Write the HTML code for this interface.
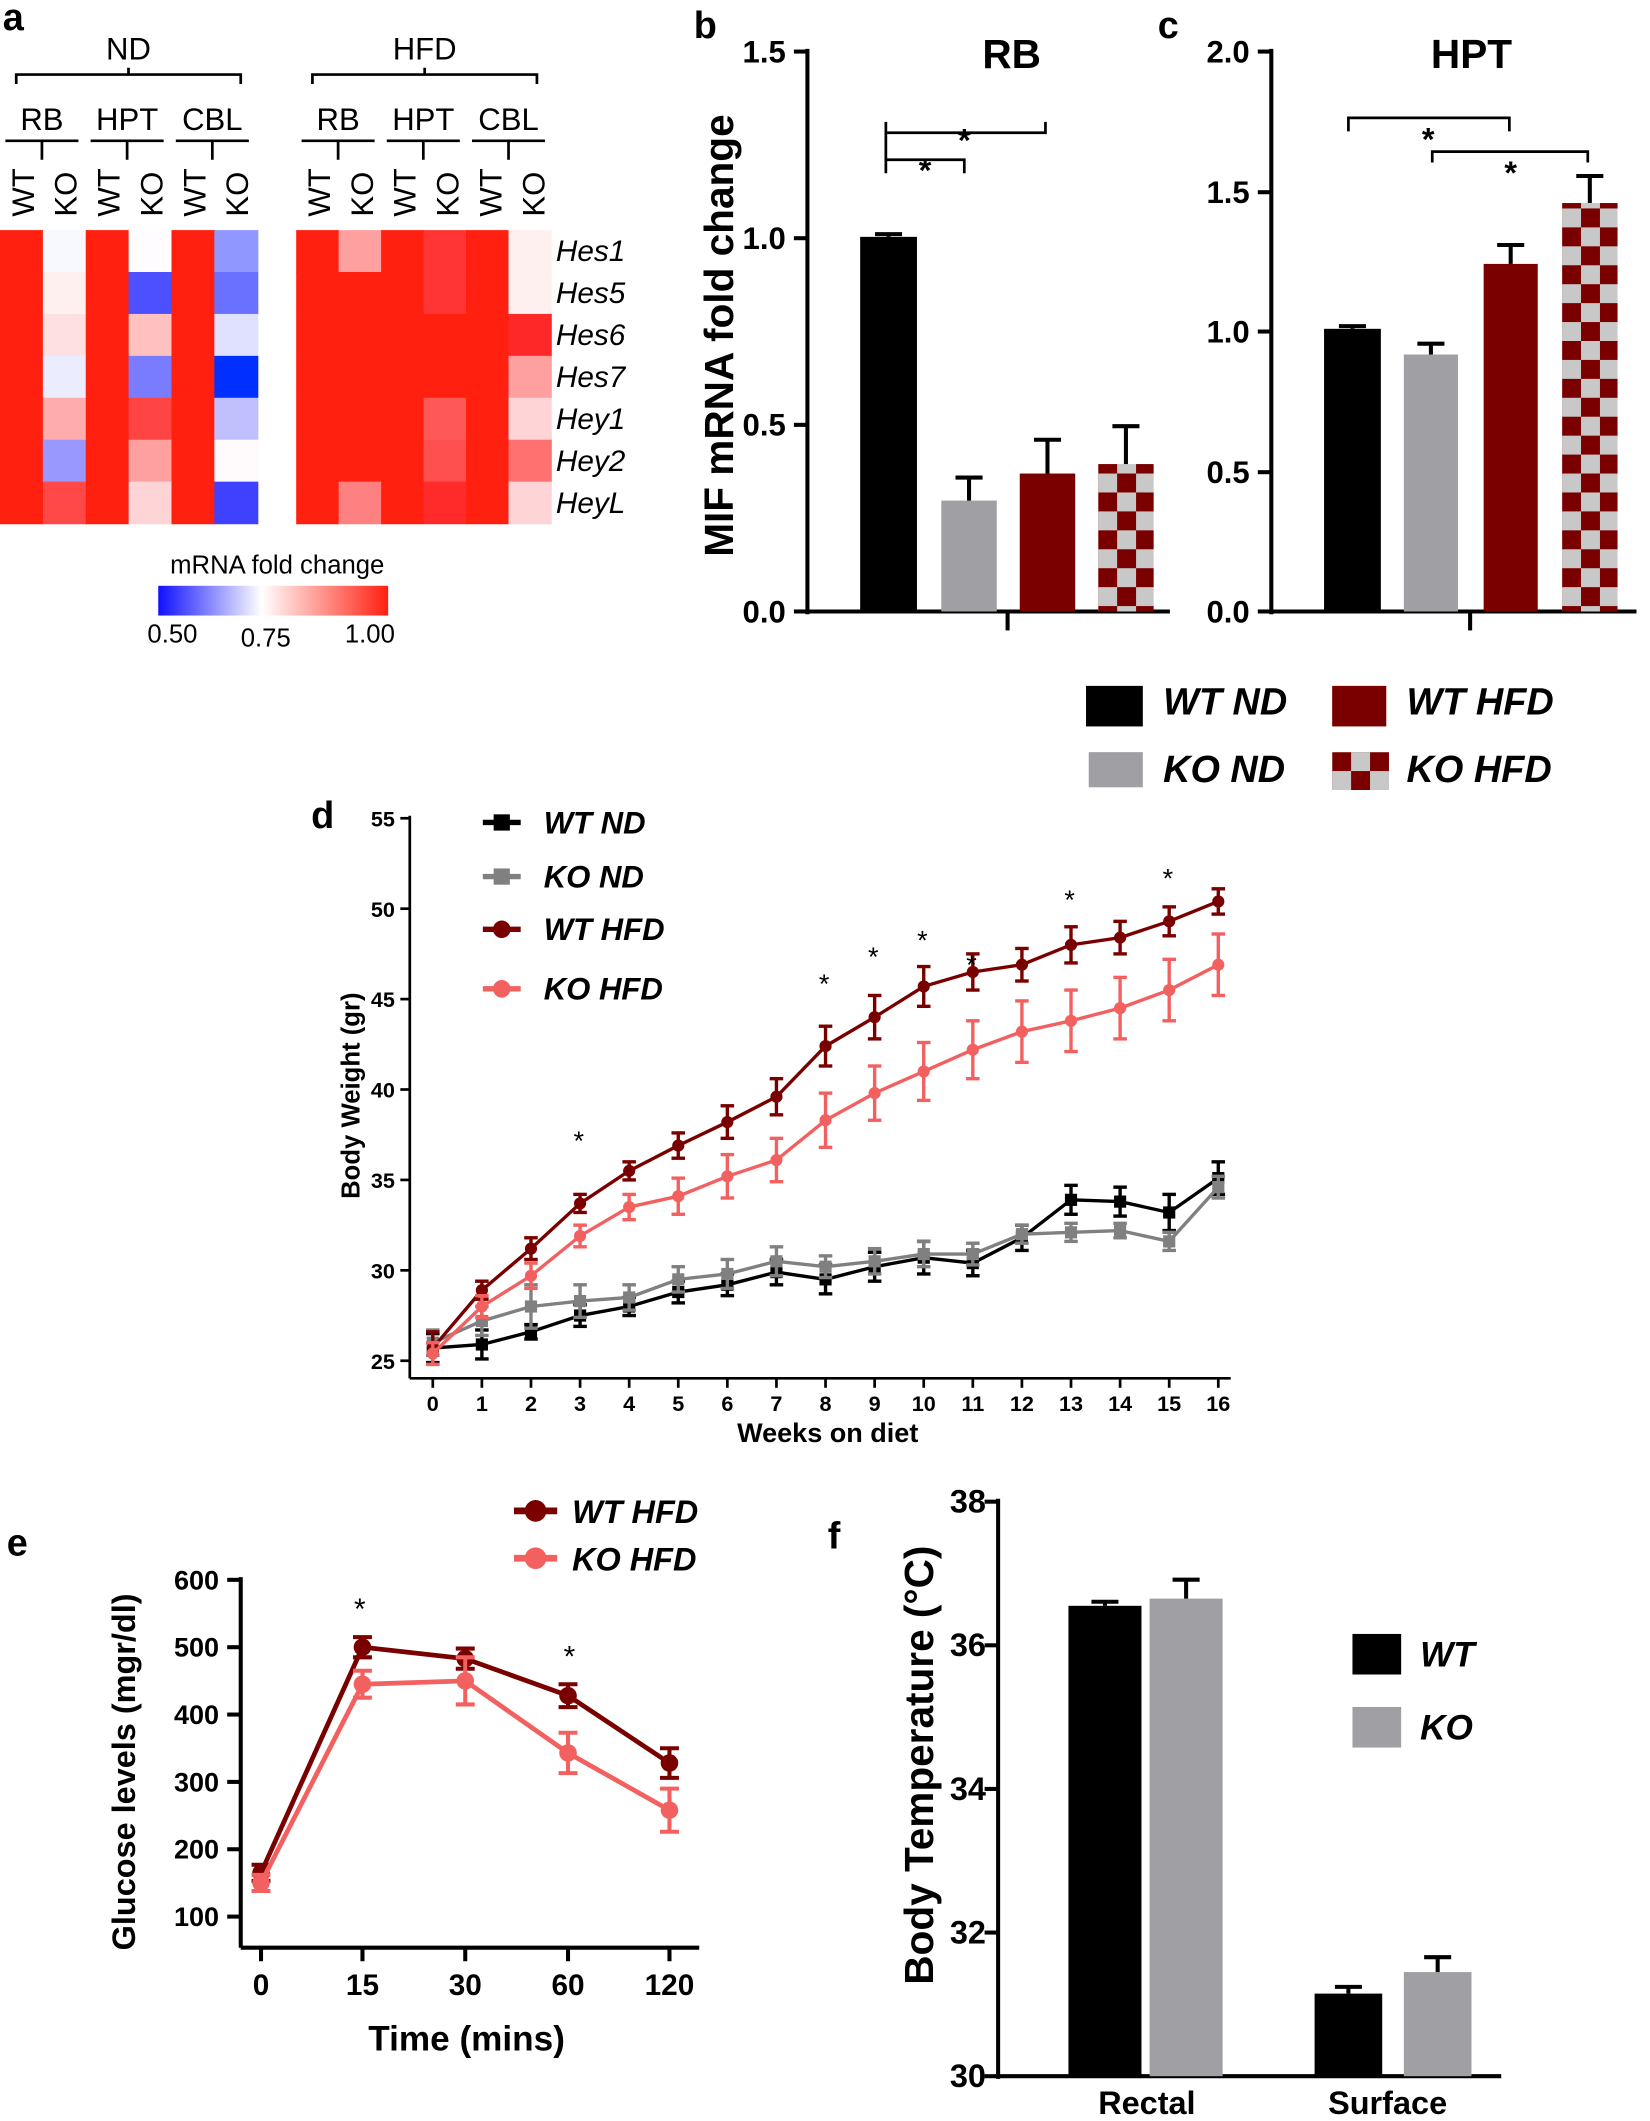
<!DOCTYPE html>
<html><head><meta charset="utf-8"><style>
html,body{margin:0;padding:0;background:#fff}
svg{display:block}
text{font-family:"Liberation Sans",Arial,sans-serif}
</style></head><body>
<svg id="s" width="1650" height="2121" viewBox="0 0 1220 1568" xmlns="http://www.w3.org/2000/svg">
<defs>
<pattern id="chk" x="812" y="0" width="28" height="28" patternUnits="userSpaceOnUse">
<rect width="28" height="28" fill="#c8c8c8"/><rect width="14" height="14" fill="#7a0000"/><rect x="14" y="14" width="14" height="14" fill="#7a0000"/></pattern>
<pattern id="chk2" x="1155" y="0" width="28" height="28" patternUnits="userSpaceOnUse">
<rect width="28" height="28" fill="#c8c8c8"/><rect width="14" height="14" fill="#7a0000"/><rect x="14" y="14" width="14" height="14" fill="#7a0000"/></pattern>
<pattern id="chk3" x="985" y="556" width="28" height="28" patternUnits="userSpaceOnUse">
<rect width="28" height="28" fill="#c8c8c8"/><rect width="14" height="14" fill="#7a0000"/><rect x="14" y="14" width="14" height="14" fill="#7a0000"/></pattern>
<linearGradient id="cb" x1="0" x2="1"><stop offset="0" stop-color="#1010ff"/><stop offset="0.45" stop-color="#fff"/><stop offset="1" stop-color="#ff2010"/></linearGradient>
</defs>
<g id="g"></g>
</svg>
<script>
var g=document.getElementById('g'),h='';
function R(x,y,w,hh,f){h+='<rect x="'+x+'" y="'+y+'" width="'+w+'" height="'+hh+'" fill="'+f+'"/>';}
function L(a,b,c,d,s,w){h+='<line x1="'+a+'" y1="'+b+'" x2="'+c+'" y2="'+d+'" stroke="'+(s||'#000')+'" stroke-width="'+(w||3)+'"/>';}
function T(x,y,t,sz,o){h+='<text x="'+x+'" y="'+y+'" font-size="'+sz+'" '+(o||'')+'>'+t+'</text>';}
T(2,22,'a',28,'font-weight="bold"');T(513,28,'b',28,'font-weight="bold"');T(856,28,'c',28,'font-weight="bold"');
T(230,612,'d',28,'font-weight="bold"');T(5,1150,'e',28,'font-weight="bold"');T(612,1145,'f',28,'font-weight="bold"');
var r='#ff2010';
var nd=[[r,'#f8f8ff',r,'#fffcff',r,'#9098ff'],[r,'#fff0f0',r,'#4c50ff',r,'#6a70ff'],[r,'#ffe0e0',r,'#ffc0c0',r,'#e0e0ff'],[r,'#ececff',r,'#7a7cff',r,'#0030ff'],[r,'#ffacac',r,'#ff4444',r,'#c0c0ff'],[r,'#9898ff',r,'#ffa0a0',r,'#fffafc'],[r,'#ff4848',r,'#ffd4d6',r,'#4040ff']];
var hf=[[r,'#ffa0a0',r,'#ff3434',r,'#fff0f0'],[r,r,r,'#ff3434',r,'#fff0f0'],[r,r,r,r,r,'#ff2828'],[r,r,r,r,r,'#ffa0a0'],[r,r,r,'#ff5858',r,'#ffd4d6'],[r,r,r,'#ff5050',r,'#ff7070'],[r,'#ff8080',r,'#ff2a2a',r,'#ffd4d6']];
for(var i=0;i<7;i++)for(var j=0;j<6;j++){R(j*31.7,170+i*31,32.5,31.5,nd[i][j]);R(219+j*31.4,170+i*31,32,31.5,hf[i][j]);}
var genes=['Hes1','Hes5','Hes6','Hes7','Hey1','Hey2','HeyL'];
genes.forEach(function(n,i){T(411,193+i*31,n,22,'font-style="italic"');});
function hdr(x0,lab){T(x0+95,44,lab,23,'text-anchor="middle"');
 h+='<path d="M'+(x0+12)+' 62 V55 H'+(x0+178)+' V62 M'+(x0+95)+' 55 V50" fill="none" stroke="#000" stroke-width="2"/>';
 ['RB','HPT','CBL'].forEach(function(s,k){var cx=x0+k*63+31;T(cx,96,s,23,'text-anchor="middle"');L(cx-27,104,cx+27,104,'#000',2);L(cx,104,cx,118,'#000',2);});
 for(var k=0;k<6;k++){T(x0+k*31.7+25,160,k%2?'KO':'WT',23,'transform="rotate(-90 '+(x0+k*31.7+25)+' 160)"');}}
hdr(0,'ND');hdr(219,'HFD');
T(205,424,'mRNA fold change',19,'text-anchor="middle"');
R(117,433,170,22,'url(#cb)');
T(109,475,'0.50',19);T(178,478,'0.75',19);T(255,475,'1.00',19);
function axis(x,y0,y1,ticks,fmt){L(x,y0,x,y1);ticks.forEach(function(t){L(x-10,t[0],x,t[0]);T(x-16,t[0]+8,t[1],23,'text-anchor="end" font-weight="bold"');});}
axis(597,36,454,[[38,'1.5'],[176,'1.0'],[314,'0.5'],[452,'0.0']]);
L(597,452,865,452);L(745,452,745,466);
T(748,50,'RB',30,'text-anchor="middle" font-weight="bold"');
T(542,248,'MIF mRNA fold change',30,'text-anchor="middle" font-weight="bold" transform="rotate(-90 542 248)"');
function bar(x,w,top,bot,f,e){R(x,top,w,bot-top,f);if(e){L(x+w/2,top,x+w/2,top-e,'#000',3);L(x+w/2-10,top-e,x+w/2+10,top-e,'#000',3);}}
bar(636,42,175,452,'#000',2);bar(696,41,370,452,'#a0a0a4',17);bar(754,41,350,452,'#7a0000',25);bar(812,41,343,452,'url(#chk)',28);
h+='<path d="M655 120 V98 H773 V90 M655 98 V90 M655 128 V118 H713 V128" fill="none" stroke="#000" stroke-width="2"/>';
T(713,112,'*',24,'text-anchor="middle" font-weight="bold"');T(684,134,'*',24,'text-anchor="middle" font-weight="bold"');
axis(940,36,454,[[38,'2.0'],[142,'1.5'],[245,'1.0'],[349,'0.5'],[452,'0.0']]);
L(940,452,1210,452);L(1087,452,1087,466);
T(1088,50,'HPT',30,'text-anchor="middle" font-weight="bold"');
bar(979,42,243,452,'#000',2);bar(1038,40,262,452,'#a0a0a4',8);bar(1097,40,195,452,'#7a0000',14);bar(1155,41,150,452,'url(#chk2)',20);
h+='<path d="M997 97 V87 H1116 V97 M1059 120 V112 H1174 V120" fill="none" stroke="#000" stroke-width="2"/>';
T(1056,111,'*',24,'text-anchor="middle" font-weight="bold"');T(1117,136,'*',24,'text-anchor="middle" font-weight="bold"');
R(803,507,42,30,'#000');T(860,528,'WT ND',28,'font-weight="bold" font-style="italic"');
R(985,507,40,30,'#7a0000');T(1040,528,'WT HFD',28,'font-weight="bold" font-style="italic"');
R(805,556,40,26,'#a0a0a4');T(860,578,'KO ND',28,'font-weight="bold" font-style="italic"');
R(985,556,42,28,'url(#chk3)');T(1040,578,'KO HFD',28,'font-weight="bold" font-style="italic"');
function yd(v){return 1006-(v-25)*13.37;}function xd(w){return 320+w*36.3;}
L(303,603,303,1019,'#000',2);L(303,1019,910,1019,'#000',2);
for(var v=25;v<=55;v+=5){L(296,yd(v),303,yd(v),'#000',2);T(292,yd(v)+6,v,16,'text-anchor="end" font-weight="bold"');}
for(var w=0;w<=16;w++){L(xd(w),1019,xd(w),1026,'#000',2);T(xd(w),1043,w,16,'text-anchor="middle" font-weight="bold"');}
T(612,1066,'Weeks on diet',20,'text-anchor="middle" font-weight="bold"');
T(266,810,'Body Weight (gr)',19,'text-anchor="middle" font-weight="bold" transform="rotate(-90 266 810)"');
var S=[['#000','sq',[25.7,25.9,26.6,27.5,28,28.8,29.2,29.9,29.5,30.2,30.7,30.4,31.8,33.9,33.8,33.2,35.1],[.8,.8,.4,.6,.5,.6,.6,.7,.8,.8,.9,.7,.7,.8,.8,1,.9]],
['#808080','sq',[26,27.2,28,28.3,28.5,29.5,29.8,30.5,30.2,30.5,30.9,30.9,32,32.1,32.2,31.6,34.6],[.7,.8,1.2,.9,.7,.7,.8,.8,.6,.7,.7,.6,.5,.5,.4,.5,.6]],
['#7a0000','ci',[25.7,28.9,31.2,33.7,35.5,36.9,38.2,39.6,42.4,44,45.7,46.5,46.9,48,48.4,49.3,50.4],[.9,.5,.6,.5,.5,.7,.9,1,1.1,1.2,1.1,1,.9,1,.9,.8,.7]],
['#f36060','ci',[25.4,28,29.7,31.9,33.5,34.1,35.2,36.1,38.3,39.8,41,42.2,43.2,43.8,44.5,45.5,46.9],[.6,.6,.7,.6,.7,1,1.2,1.2,1.5,1.5,1.6,1.6,1.7,1.7,1.7,1.7,1.7]]];
S.forEach(function(s){var p='';s[2].forEach(function(v,i){p+=(i?'L':'M')+xd(i)+' '+yd(v);});
 h+='<path d="'+p+'" fill="none" stroke="'+s[0]+'" stroke-width="2.5"/>';
 s[2].forEach(function(v,i){var x=xd(i),e=s[3][i]*13.37,y=yd(v);L(x,y-e,x,y+e,s[0],2.5);L(x-5,y-e,x+5,y-e,s[0],2.5);L(x-5,y+e,x+5,y+e,s[0],2.5);
  if(s[1]=='sq')R(x-4.5,y-4.5,9,9,s[0]);else h+='<circle cx="'+x+'" cy="'+y+'" r="4.5" fill="'+s[0]+'"/>';});});
[3,8,9,10,11,13,15].forEach(function(w,i){var ys=[840,724,704,692,710,662,646][i];T(xd(w)-1,ys+10,'*',20,'text-anchor="middle"');});
[['#000','sq','WT ND',615],['#808080','sq','KO ND',655],['#7a0000','ci','WT HFD',694],['#f36060','ci','KO HFD',738]].forEach(function(l){L(357,l[3]-7,385,l[3]-7,l[0],4);if(l[1]=='sq')R(365,l[3]-13,12,12,l[0]);else h+='<circle cx="371" cy="'+(l[3]-7)+'" r="6.5" fill="'+l[0]+'"/>';T(402,l[3]+1,l[2],23,'font-weight="bold" font-style="italic"');});
function ye(v){return 1417-(v-100)*0.498;}var xe=[193,268,344,420,495];
L(178,1166,178,1440);L(178,1440,517,1440);
for(var v=100;v<=600;v+=100){L(168,ye(v),178,ye(v));T(162,ye(v)+7,v,20,'text-anchor="end" font-weight="bold"');}
['0','15','30','60','120'].forEach(function(t,i){L(xe[i],1440,xe[i],1450);T(xe[i],1475,t,22,'text-anchor="middle" font-weight="bold"');});
T(345,1516,'Time (mins)',26,'text-anchor="middle" font-weight="bold"');
T(100,1310,'Glucose levels (mgr/dl)',24,'text-anchor="middle" font-weight="bold" transform="rotate(-90 100 1310)"');
[['#7a0000',[165,500,483,428,328],[12,15,15,17,22]],['#f36060',[150,445,450,343,258],[12,20,35,30,32]]].forEach(function(s){var p='';s[1].forEach(function(v,i){p+=(i?'L':'M')+xe[i]+' '+ye(v);});
 h+='<path d="'+p+'" fill="none" stroke="'+s[0]+'" stroke-width="3.5"/>';
 s[1].forEach(function(v,i){var x=xe[i],y=ye(v),e=s[2][i]*0.498;L(x,y-e,x,y+e,s[0],3);L(x-7,y-e,x+7,y-e,s[0],3);L(x-7,y+e,x+7,y+e,s[0],3);h+='<circle cx="'+x+'" cy="'+y+'" r="6.5" fill="'+s[0]+'"/>';});});
T(266,1197,'*',22,'text-anchor="middle"');T(421,1232,'*',22,'text-anchor="middle"');
[['#7a0000','WT HFD',1125],['#f36060','KO HFD',1160]].forEach(function(l){L(380,l[2]-8,412,l[2]-8,l[0],5);h+='<circle cx="396" cy="'+(l[2]-8)+'" r="8" fill="'+l[0]+'"/>';T(423,l[2]+1,l[1],24,'font-weight="bold" font-style="italic"');});
function yf(v){return 1535-(v-30)*53.1;}
L(738,1108,738,1537);L(738,1535,1110,1535);
for(var v=30;v<=38;v+=2){L(728,yf(v),738,yf(v));T(729,yf(v)+8,v,24,'text-anchor="end" font-weight="bold"');}
T(690,1305,'Body Temperature (°C)',30,'text-anchor="middle" font-weight="bold" transform="rotate(-90 690 1305)"');
bar(790,54,yf(36.55),1535,'#000',3);bar(850,54,yf(36.65),1535,'#a0a0a4',14);
bar(972,50,yf(31.15),1535,'#000',5);bar(1038,50,yf(31.45),1535,'#a0a0a4',11);
T(848,1563,'Rectal',24,'text-anchor="middle" font-weight="bold"');T(1026,1563,'Surface',24,'text-anchor="middle" font-weight="bold"');
R(1000,1208,36,30,'#000');T(1050,1232,'WT',26,'font-weight="bold" font-style="italic"');
R(1000,1262,36,30,'#a0a0a4');T(1050,1286,'KO',26,'font-weight="bold" font-style="italic"');
g.innerHTML=h;
</script>
</body></html>
